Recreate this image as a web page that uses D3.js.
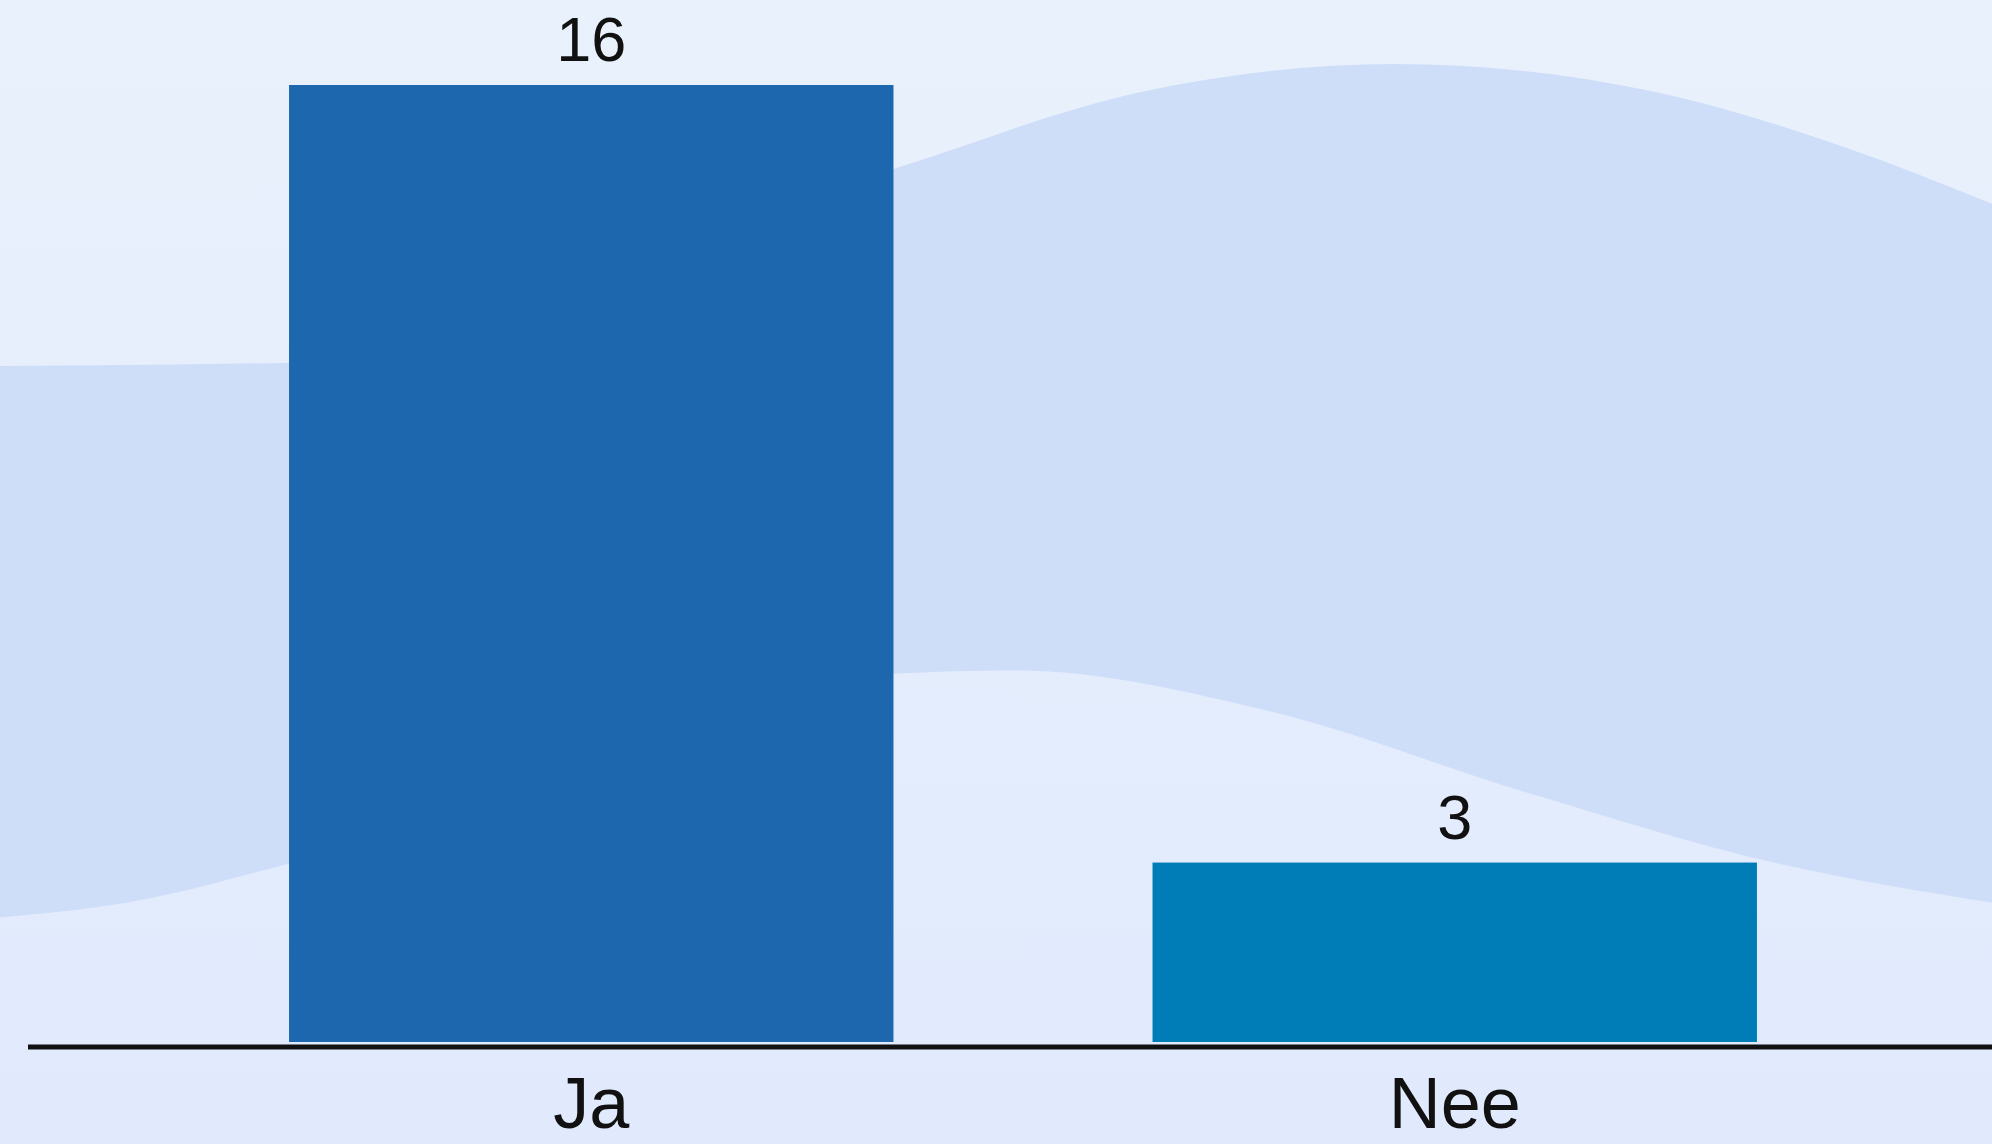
<!DOCTYPE html>
<html>
<head>
<meta charset="utf-8">
<script src="https://cdn.jsdelivr.net/npm/d3@7"></script>
<style>
  html, body { margin: 0; padding: 0; overflow: hidden; }
  svg { display: block; }
</style>
</head>
<body>
<div id="chart"></div>
<script>
var categories = ["Ja", "Nee"];
var values = [16, 3];
var barColors = ["#1c67ad", "#007cb7"];

// decorative wave behind the bars (fractions of the page)
var waveTop = [[0, 0.320], [0.145, 0.317], [0.448, 0.148], [0.574, 0.080], [0.70, 0.056], [0.83, 0.080], [0.925, 0.128], [1, 0.178]];
var waveBottom = [[0, 0.802], [0.064, 0.789], [0.145, 0.755], [0.448, 0.589], [0.51, 0.586], [0.638, 0.622], [0.765, 0.692], [0.893, 0.755], [1, 0.789]];

var width = 1992,
    height = 1144;

var svg = d3.select("#chart")
  .append("svg")
  .attr("width", width)
  .attr("height", height);

var defs = svg.append("defs");
var grad = defs.append("linearGradient")
  .attr("id", "bg")
  .attr("x1", 0).attr("y1", 0)
  .attr("x2", 0).attr("y2", 1);
grad.append("stop").attr("offset", "0%").attr("stop-color", "#e9f1fc");
grad.append("stop").attr("offset", "100%").attr("stop-color", "#e1eafd");

svg.append("rect")
  .attr("width", width)
  .attr("height", height)
  .attr("fill", "url(#bg)");

// wave band: area under the top edge, clipped above the bottom edge
var waveLine = d3.line()
  .x(function(d) { return d[0] * width; })
  .y(function(d) { return d[1] * height; })
  .curve(d3.curveMonotoneX);

var topPath = waveLine(waveTop);
var botPath = waveLine(waveBottom);

defs.append("clipPath").attr("id", "under")
  .append("path")
  .attr("d", botPath + "L" + width + ",0L0,0Z");

svg.append("path")
  .attr("d", topPath + "L" + width + "," + height + "L0," + height + "Z")
  .attr("clip-path", "url(#under)")
  .attr("fill", "#cfdef8");

var x = d3.scaleBand()
  .domain(categories)
  .range([30, 2016])
  .paddingInner(0.3)
  .paddingOuter(0.3);

var y = d3.scaleLinear()
  .domain([0, 16])
  .range([1042, 85]);

var data = categories.map(function(c, i) {
  return { cat: c, value: values[i], color: barColors[i] };
});

svg.append("g")
  .selectAll("rect")
  .data(data)
  .enter()
  .append("rect")
  .attr("x", function(d) { return x(d.cat); })
  .attr("y", function(d) { return y(d.value); })
  .attr("width", x.bandwidth())
  .attr("height", function(d) { return y(0) - y(d.value); })
  .attr("fill", function(d) { return d.color; });

// value labels
svg.append("g")
  .selectAll("text")
  .data(data)
  .enter()
  .append("text")
  .attr("x", function(d) { return x(d.cat) + x.bandwidth() / 2; })
  .attr("y", function(d) { return y(d.value) - 24; })
  .attr("text-anchor", "middle")
  .attr("font-family", "'Liberation Sans', Arial, sans-serif")
  .attr("font-size", 63)
  .attr("fill", "#111")
  .text(function(d) { return d.value; });

// x axis
var xAxis = svg.append("g")
  .attr("transform", "translate(0," + 1047 + ")")
  .call(d3.axisBottom(x).tickSize(0).tickPadding(0));

xAxis.select(".domain")
  .attr("d", "M28,0H" + width)
  .attr("stroke", "#111")
  .attr("stroke-width", 5);

xAxis.selectAll(".tick text")
  .attr("y", 81)
  .attr("dy", 0)
  .attr("font-family", "'Liberation Sans', Arial, sans-serif")
  .attr("font-size", 72)
  .attr("fill", "#111");
</script>
</body>
</html>
